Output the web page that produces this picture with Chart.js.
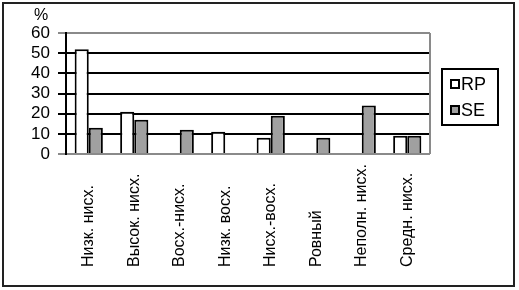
<!DOCTYPE html>
<html><head><meta charset="utf-8">
<script src="https://cdn.jsdelivr.net/npm/chart.js@4/dist/chart.umd.min.js"></script>
<style>html,body{margin:0;padding:0;background:#fff}#wrap{width:519px;height:290px;position:relative}</style>
</head><body><div id="wrap"><canvas id="c" width="519" height="290"></canvas></div>
<script>
const categories = ["Низк. нисх.", "Высок. нисх.", "Восх.-нисх.", "Низк. восх.", "Нисх.-восх.", "Ровный", "Неполн. нисх.", "Средн. нисх."];
const seriesNames = ["RP", "SE"];
const rpValues = [52, 21, 0, 11, 8, 0, 0, 9];
const seValues = [13, 17, 12, 0, 19, 8, 24, 9];
const yTicks = [0, 10, 20, 30, 40, 50, 60];
const yUnit = "%";

const FONT = "'Liberation Sans', Arial, sans-serif";
const colors = ["#ffffff", "#a0a0a0"];

const decor = {
  id: 'decor',
  afterDraw(chart) {
    const ctx = chart.ctx, ca = chart.chartArea, xs = chart.scales.x;
    ctx.save();
    ctx.strokeStyle = '#8a8a8a'; ctx.lineWidth = 2;
    ctx.beginPath(); ctx.moveTo(ca.right, ca.top); ctx.lineTo(ca.right, ca.bottom); ctx.stroke();
    ctx.fillStyle = '#000'; ctx.font = '16px ' + FONT; ctx.textAlign = 'center'; ctx.textBaseline = 'middle';
    ctx.fillText(yUnit, 41, 16);
    ctx.font = '16px ' + FONT;
    categories.forEach((lab, i) => {
      const x = xs.getPixelForTick(i);
      ctx.save(); ctx.translate(x, 267); ctx.rotate(-Math.PI / 2);
      ctx.textAlign = 'left'; ctx.textBaseline = 'middle';
      ctx.fillText(lab, 0, 0);
      ctx.restore();
    });
    const lx = 442, ly = 69, lw = 56, lh = 56;
    ctx.strokeStyle = '#000'; ctx.lineWidth = 2;
    ctx.strokeRect(lx, ly, lw, lh);
    ctx.font = '18px ' + FONT; ctx.textAlign = 'left'; ctx.textBaseline = 'middle';
    seriesNames.forEach((n, i) => {
      const cy = 84 + i * 26;
      ctx.fillStyle = colors[i];
      ctx.fillRect(451, cy - 4, 8, 8);
      ctx.strokeStyle = '#000'; ctx.lineWidth = 2;
      ctx.strokeRect(451, cy - 4, 8, 8);
      ctx.fillStyle = '#000';
      ctx.fillText(n, 461, cy + 1);
    });
    ctx.strokeStyle = '#222'; ctx.lineWidth = 2;
    ctx.strokeRect(3, 3, 511, 283);
    ctx.restore();
  }
};

const lineColor = (c) => (c.tick && (c.tick.value === 0 || c.tick.value === 60)) ? '#8a8a8a' : '#000';

new Chart(document.getElementById('c'), {
  type: 'bar',
  data: {
    labels: categories,
    datasets: [
      { label: seriesNames[0], data: rpValues.map(v => v === 0 ? null : v), backgroundColor: colors[0], borderColor: '#000', borderWidth: 2 },
      { label: seriesNames[1], data: seValues.map(v => v === 0 ? null : v), backgroundColor: colors[1], borderColor: '#000', borderWidth: 2 }
    ]
  },
  options: {
    responsive: false, animation: false, devicePixelRatio: 1,
    layout: { padding: { top: 33, right: 89, bottom: 136, left: 0 } },
    datasets: { bar: { categoryPercentage: 0.62, barPercentage: 1.0 } },
    plugins: { legend: { display: false }, tooltip: { enabled: false } },
    scales: {
      x: {
        ticks: { display: false }, grid: { display: false }, border: { display: false },
        afterFit(s) { s.height = 0; }
      },
      y: {
        min: yTicks[0], max: yTicks[yTicks.length - 1],
        afterBuildTicks(s) { s.ticks = yTicks.map(v => ({ value: v })); },
        afterFit(s) { s.width = 66; },
        ticks: { color: '#000', font: { family: FONT, size: 17 }, padding: 8, autoSkip: false, stepSize: 10 },
        grid: { color: lineColor, tickColor: lineColor, lineWidth: 2, tickLength: 8 },
        border: { display: true, color: '#000', width: 2 }
      }
    }
  },
  plugins: [decor]
});
</script></body></html>
